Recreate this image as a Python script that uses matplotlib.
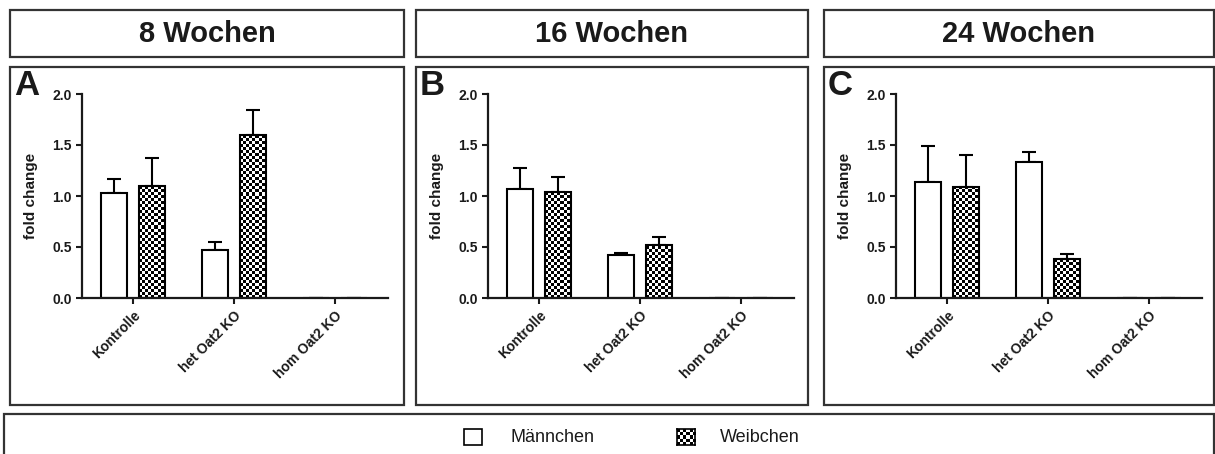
import numpy as np
import matplotlib
matplotlib.use('Agg')
import matplotlib.pyplot as plt
from matplotlib.patches import Rectangle

plt.rcParams['font.family'] = ['Liberation Sans', 'DejaVu Sans']

groups = ['Kontrolle', 'het Oat2 KO', 'hom Oat2 KO']
titles = ['8 Wochen', '16 Wochen', '24 Wochen']
letters = ['A', 'B', 'C']

# fold change per time point: [Kontrolle, het, hom]
male_mean = [[1.03, 0.47, 0.0], [1.07, 0.42, 0.0], [1.14, 1.33, 0.0]]
male_err = [[0.14, 0.08, 0.0], [0.20, 0.02, 0.0], [0.35, 0.10, 0.0]]
female_mean = [[1.10, 1.60, 0.0], [1.04, 0.52, 0.0], [1.09, 0.38, 0.0]]
female_err = [[0.27, 0.24, 0.0], [0.15, 0.08, 0.0], [0.31, 0.05, 0.0]]

W, H = 1215, 454
fig = plt.figure(figsize=(W / 100, H / 100), dpi=100)
fig.patch.set_facecolor('white')


def fbox(x0, y0, x1, y1):
    # rectangle given in pixels from top-left
    r = Rectangle((x0 / W, 1 - y1 / H), (x1 - x0) / W, (y1 - y0) / H,
                  transform=fig.transFigure, fill=False, edgecolor='#333333',
                  linewidth=1.6, zorder=0)
    fig.patches.append(r)


def checker(nx, ny):
    i, j = np.indices((ny, nx))
    return (i + j) % 2


box_x = [(10, 404), (416, 808), (824, 1214)]
ax_x = [(82, 388), (488, 794), (896, 1202)]
ax_top, ax_bot = 94, 298
bw = 0.26
off = 0.19
xlim = (-0.505, 2.525)
cell = 3.0

for k in range(3):
    bx0, bx1 = box_x[k]
    fbox(bx0, 10, bx1, 57)
    fbox(bx0, 67, bx1, 405)
    fig.text((bx0 + bx1) / 2 / W, 1 - 34 / H, titles[k], ha='center',
             va='center', fontsize=21, fontweight='bold', color='#1a1a1a')
    fig.text((bx0 + 4) / W, 1 - 69 / H, letters[k], ha='left', va='top',
             fontsize=25, fontweight='bold', color='#1a1a1a')

    x0, x1 = ax_x[k]
    ax = fig.add_axes([x0 / W, 1 - ax_bot / H, (x1 - x0) / W, (ax_bot - ax_top) / H])
    x = np.arange(len(groups))
    ax.bar(x - off, male_mean[k], bw, color='white', edgecolor='black',
           linewidth=1.5, zorder=2)
    fbars = ax.bar(x + off, female_mean[k], bw, facecolor='none', edgecolor='black',
                   linewidth=1.5, zorder=2)
    ax.errorbar(x - off, male_mean[k], yerr=[np.zeros(3), male_err[k]], fmt='none',
                ecolor='black', elinewidth=1.5, capsize=5, capthick=1.5, zorder=1)
    ax.errorbar(x + off, female_mean[k], yerr=[np.zeros(3), female_err[k]], fmt='none',
                ecolor='black', elinewidth=1.5, capsize=5, capthick=1.5, zorder=1)
    ax.set_xlim(*xlim)
    ax.set_ylim(0, 2.0)

    # checkerboard fill for the female bars
    dx = cell * (xlim[1] - xlim[0]) / (x1 - x0)
    dy = cell * 2.0 / (ax_bot - ax_top)
    for b in fbars:
        if b.get_height() <= 0:
            continue
        nx = int(np.ceil(b.get_width() / dx))
        ny = int(np.ceil(b.get_height() / dy))
        bl = b.get_x()
        im = ax.imshow(checker(nx, ny), cmap='gray', interpolation='nearest',
                       origin='lower', aspect='auto',
                       extent=(bl, bl + nx * dx, 0, ny * dy), zorder=1.5)
        im.set_clip_path(b)
    ax.set_xlim(*xlim)
    ax.set_ylim(0, 2.0)

    for s in ['top', 'right']:
        ax.spines[s].set_visible(False)
    for s in ['left', 'bottom']:
        ax.spines[s].set_linewidth(1.6)
        ax.spines[s].set_color('#1a1a1a')
    ax.set_yticks([0.0, 0.5, 1.0, 1.5, 2.0])
    ax.set_yticklabels(['0.0', '0.5', '1.0', '1.5', '2.0'])
    ax.set_xticks(x)
    ax.set_xticklabels(groups, rotation=45, ha='right', rotation_mode='anchor')
    ax.tick_params(axis='both', direction='out', length=4, width=1.5,
                   labelsize=10, colors='#1a1a1a')
    for lab in ax.get_xticklabels() + ax.get_yticklabels():
        lab.set_fontweight('bold')
    ax.set_ylabel('fold change', fontsize=11, fontweight='bold', color='#1a1a1a')
    ax.yaxis.set_label_coords(-44 / (x1 - x0), 0.5)
    ax.patch.set_alpha(0)

# legend strip
fbox(4, 414, 1214, 456)
fig.patches.append(Rectangle((464 / W, 1 - 445 / H), 18 / W, 16 / H,
                             transform=fig.transFigure, facecolor='white',
                             edgecolor='black', linewidth=1.2))
fig.text(511 / W, 1 - 437 / H, 'Männchen', ha='left', va='center',
         fontsize=13, color='#1a1a1a')
lax = fig.add_axes([677 / W, 1 - 445 / H, 18 / W, 16 / H])
lax.imshow(checker(6, 5), cmap='gray', interpolation='nearest', aspect='auto')
lax.set_xticks([])
lax.set_yticks([])
for s in lax.spines.values():
    s.set_linewidth(1.2)
fig.text(720 / W, 1 - 437 / H, 'Weibchen', ha='left', va='center',
         fontsize=13, color='#1a1a1a')

fig.savefig('out.png', dpi=100)
